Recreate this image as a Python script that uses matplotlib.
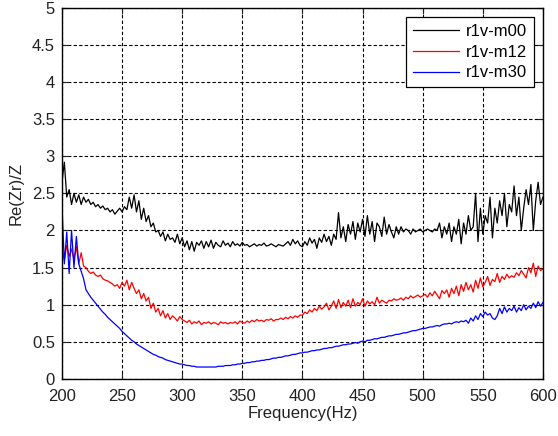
import matplotlib
matplotlib.use("Agg")
import matplotlib.pyplot as plt
import numpy as np

# frequency axis (2 Hz steps, 200..600 Hz)
freq = np.arange(200, 601, 2)

# Re(Zr)/Z, one row per 20 Hz
r1v_m00 = [
    2.65, 2.92, 2.45, 2.55, 2.35, 2.50, 2.38, 2.48, 2.35, 2.45,
    2.38, 2.42, 2.35, 2.38, 2.32, 2.35, 2.30, 2.33, 2.28, 2.30,
    2.25, 2.28, 2.22, 2.26, 2.30, 2.25, 2.32, 2.28, 2.45, 2.30,
    2.48, 2.25, 2.40, 2.15, 2.30, 2.12, 2.20, 2.05, 2.10, 1.98,
    2.00, 1.92, 1.98, 1.86, 1.95, 1.88, 1.90, 1.84, 1.95, 1.82,
    1.90, 1.78, 1.86, 1.74, 1.85, 1.72, 1.84, 1.80, 1.86, 1.76,
    1.85, 1.78, 1.87, 1.76, 1.84, 1.80, 1.78, 1.86, 1.80, 1.83,
    1.78, 1.85, 1.80, 1.82, 1.79, 1.84, 1.80, 1.81, 1.78, 1.80,
    1.82, 1.79, 1.81, 1.80, 1.83, 1.79, 1.80, 1.82, 1.80, 1.78,
    1.81, 1.80, 1.79, 1.82, 1.85, 1.80, 1.88, 1.82, 1.86, 1.80,
    1.78, 1.85, 1.80, 1.90, 1.83, 1.88, 1.76, 1.90, 1.84, 1.95,
    1.85, 1.92, 1.80, 1.95, 1.88, 2.24, 1.90, 2.05, 1.85, 2.08,
    1.95, 2.12, 1.88, 2.10, 1.98, 2.15, 1.92, 2.20, 1.95, 2.12,
    1.85, 2.10, 2.05, 1.92, 2.18, 1.95, 2.08, 1.98, 1.90, 2.05,
    1.95, 2.05, 1.98, 2.02, 2.00, 1.95, 2.02, 1.98, 2.00, 2.02,
    1.98, 2.00, 2.02, 2.00, 1.98, 2.02, 2.00, 2.10, 1.90, 2.05,
    1.95, 2.10, 1.85, 2.05, 1.95, 2.15, 1.82, 2.10, 1.95, 2.20,
    2.00, 2.05, 2.50, 1.85, 2.30, 1.95, 2.20, 2.10, 2.45, 1.90,
    2.30, 2.10, 2.40, 2.20, 2.50, 2.05, 2.35, 2.25, 2.60, 2.20,
    2.45, 2.00, 2.30, 2.55, 2.35, 2.62, 2.00, 2.40, 2.65, 2.35,
    2.45,
]

r1v_m12 = [
    1.75, 1.60, 1.80, 1.65, 1.75, 1.60, 1.78, 1.55, 1.70, 1.52,
    1.50, 1.45, 1.42, 1.44, 1.40, 1.38, 1.40, 1.35, 1.33, 1.32,
    1.30, 1.28, 1.25, 1.27, 1.22, 1.30, 1.25, 1.33, 1.20, 1.30,
    1.22, 1.15, 1.20, 1.08, 1.15, 1.05, 1.10, 0.95, 1.02, 0.90,
    0.95, 0.85, 0.92, 0.82, 0.88, 0.80, 0.85, 0.82, 0.78, 0.84,
    0.80, 0.78, 0.76, 0.79, 0.74, 0.77, 0.75, 0.78, 0.73, 0.76,
    0.75, 0.77, 0.74, 0.76, 0.75, 0.73, 0.77, 0.75, 0.76, 0.74,
    0.76, 0.75, 0.77, 0.74, 0.78, 0.76, 0.75, 0.78, 0.76, 0.79,
    0.77, 0.80, 0.78, 0.79, 0.77, 0.80, 0.79, 0.81, 0.78, 0.80,
    0.80, 0.82, 0.80, 0.83, 0.81, 0.84, 0.82, 0.85, 0.83, 0.86,
    0.86, 0.90, 0.88, 0.93, 0.90, 0.95, 0.92, 0.98, 0.94, 0.97,
    1.02, 0.93, 0.98, 1.05, 0.95, 1.07, 0.96, 1.03, 0.98, 1.06,
    0.96, 1.08, 0.98, 1.03, 1.00, 1.08, 0.98, 1.05, 1.01, 1.04,
    1.00, 1.10, 1.02, 1.06, 1.04, 1.02, 1.06, 1.05, 1.08, 1.06,
    1.07, 1.09, 1.06, 1.10, 1.08, 1.12, 1.09, 1.11, 1.13, 1.10,
    1.12, 1.14, 1.10, 1.16, 1.12, 1.18, 1.13, 1.08, 1.19, 1.15,
    1.20, 1.10, 1.22, 1.15, 1.25, 1.12, 1.27, 1.18, 1.30, 1.20,
    1.27, 1.17, 1.33, 1.22, 1.36, 1.24, 1.30, 1.38, 1.26, 1.34,
    1.31, 1.42, 1.30, 1.38, 1.34, 1.41, 1.36, 1.39, 1.37, 1.43,
    1.39, 1.46, 1.41, 1.36, 1.50, 1.43, 1.56, 1.38, 1.52, 1.46,
    1.48,
]

r1v_m30 = [
    2.35, 1.55, 1.98, 1.42, 2.00, 1.50, 1.92, 1.55, 1.45, 1.35,
    1.20, 1.15, 1.10, 1.06, 1.02, 0.98, 0.94, 0.90, 0.87, 0.83,
    0.80, 0.77, 0.74, 0.71, 0.68, 0.64, 0.61, 0.58, 0.55, 0.52,
    0.50, 0.47, 0.45, 0.43, 0.41, 0.39, 0.37, 0.35, 0.33, 0.32,
    0.30, 0.29, 0.28, 0.26, 0.25, 0.24, 0.23, 0.22, 0.21, 0.20,
    0.20, 0.19, 0.18, 0.18, 0.17, 0.17, 0.16, 0.16, 0.16, 0.16,
    0.16, 0.16, 0.16, 0.16, 0.16, 0.17, 0.17, 0.17, 0.18, 0.18,
    0.18, 0.19, 0.19, 0.20, 0.20, 0.21, 0.21, 0.22, 0.22, 0.23,
    0.23, 0.24, 0.24, 0.25, 0.25, 0.26, 0.26, 0.27, 0.28, 0.28,
    0.29, 0.29, 0.30, 0.31, 0.31, 0.32, 0.33, 0.33, 0.34, 0.35,
    0.35, 0.36, 0.36, 0.37, 0.38, 0.38, 0.39, 0.39, 0.40, 0.41,
    0.41, 0.42, 0.42, 0.43, 0.44, 0.44, 0.45, 0.46, 0.46, 0.47,
    0.47, 0.48, 0.49, 0.48, 0.50, 0.51, 0.50, 0.52, 0.52, 0.53,
    0.54, 0.54, 0.55, 0.56, 0.56, 0.57, 0.58, 0.58, 0.59, 0.60,
    0.60, 0.61, 0.62, 0.62, 0.63, 0.64, 0.65, 0.65, 0.66, 0.67,
    0.68, 0.68, 0.69, 0.70, 0.70, 0.71, 0.72, 0.71, 0.73, 0.74,
    0.74, 0.75, 0.74, 0.76, 0.77, 0.76, 0.78, 0.77, 0.79, 0.75,
    0.82, 0.78, 0.85, 0.80, 0.88, 0.84, 0.90, 0.86, 0.88, 0.82,
    0.80, 0.85, 0.95, 0.88, 0.97, 0.90, 0.95, 0.92, 0.98, 0.90,
    0.96, 0.92, 1.00, 0.93, 0.98, 0.95, 1.02, 0.96, 1.04, 0.98,
    1.03,
]

series = [("r1v-m00", r1v_m00, "black"),
          ("r1v-m12", r1v_m12, "red"),
          ("r1v-m30", r1v_m30, "blue")]

plt.rcParams['font.family'] = ['Liberation Sans', 'DejaVu Sans']

fig = plt.figure(figsize=(5.58, 4.36), dpi=100)
ax = fig.add_axes([0.111, 0.131, 0.862, 0.851])

for name, vals, col in series:
    ax.plot(freq, vals, color=col, linewidth=0.9, label=name)

ax.set_xlim(200, 600)
ax.set_ylim(0, 5)
ax.set_xticks(np.arange(200, 601, 50))
ax.set_yticks(np.arange(0, 5.01, 0.5))
ax.set_yticklabels(["0", "0.5", "1", "1.5", "2", "2.5", "3", "3.5", "4", "4.5", "5"])
ax.grid(True, color="black", linestyle=(0, (3, 2)), linewidth=0.8)
ax.tick_params(direction="in", top=True, right=True, length=4,
               labelsize=12, colors="#222222")
ax.tick_params(axis="x", pad=7)
ax.tick_params(axis="y", pad=5)
for sp in ax.spines.values():
    sp.set_linewidth(1.0)

ax.set_xlabel("Frequency(Hz)", fontsize=12, color="#222222", labelpad=2)
ax.set_ylabel("Re(Zr)/Z", fontsize=12, color="#222222", labelpad=6)

leg = ax.legend(loc="upper right", fontsize=12, fancybox=False, framealpha=1,
                edgecolor="black", handlelength=2.8, borderaxespad=0.55,
                labelspacing=0.35, handletextpad=0.4, borderpad=0.4)
leg.get_frame().set_linewidth(0.9)

fig.savefig("out.png", dpi=100)
